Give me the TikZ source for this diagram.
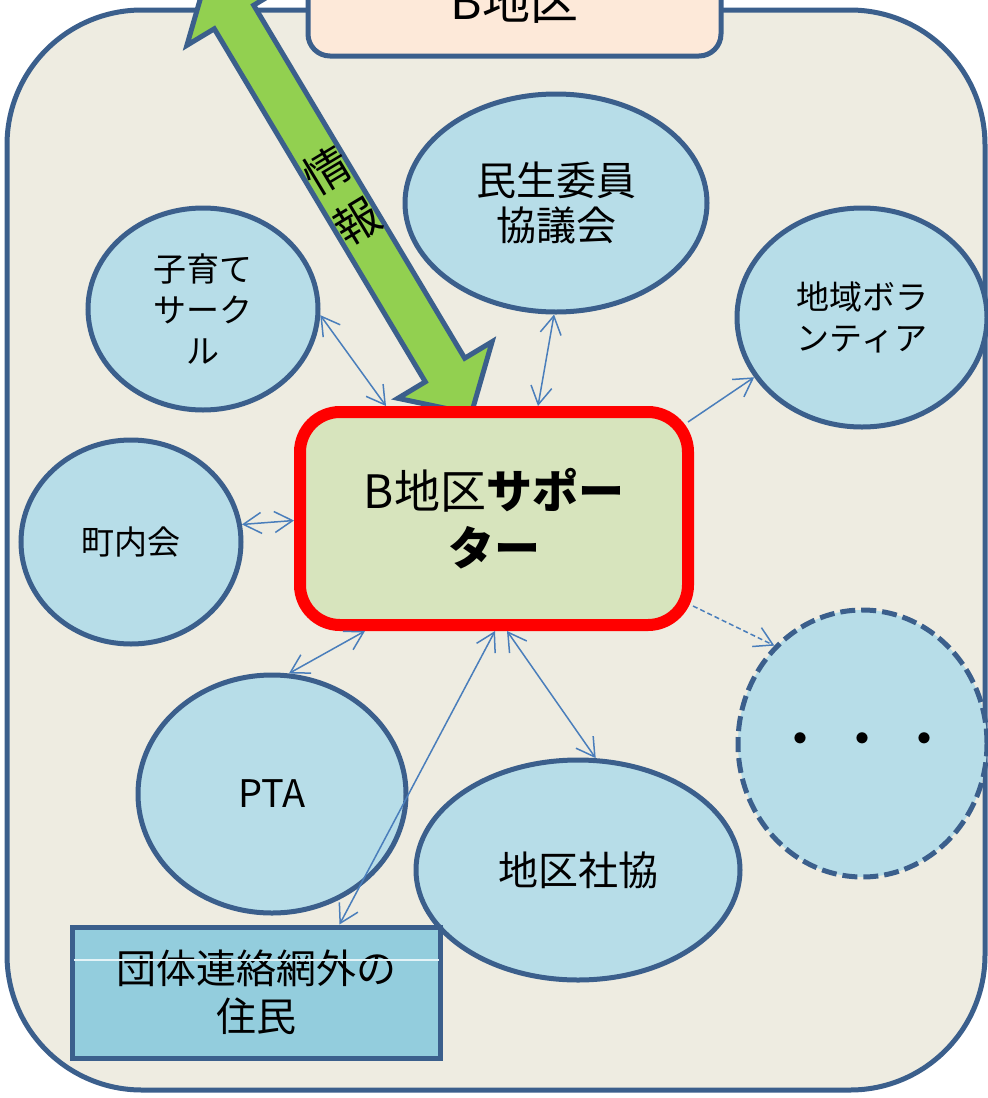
\documentclass[tikz,border=0pt]{standalone}
\usepackage{fontspec}
\setmainfont{Noto Sans CJK JP}
\usepackage{xcolor}
\usepackage{tikz}
\usetikzlibrary{arrows.meta,shapes.geometric,calc}
\definecolor{frameC}{HTML}{3B5F8C}
\definecolor{bgC}{HTML}{EEECE1}
\definecolor{groupC}{HTML}{B7DDE8}
\definecolor{supC}{HTML}{D7E4BD}
\definecolor{titleC}{HTML}{FDE9D9}
\definecolor{juminC}{HTML}{93CDDD}
\definecolor{infoC}{HTML}{92D050}
\definecolor{connC}{HTML}{4A7EBB}
\newcommand\fsz[2]{\fontsize{#1}{#2}\selectfont}
\tikzset{
  barb/.tip={Straight Barb[length=18pt,width=21pt]},
  group/.style={ellipse,draw=frameC,line width=5pt,fill=groupC,inner sep=0pt,align=center},
  conn/.style={draw=connC,line width=1.5pt,barb-barb},
  oneway/.style={draw=connC,line width=1.5pt,-barb}
}

\begin{document}
\begin{tikzpicture}[x=1pt,y=-1pt]
        \useasboundingbox (0,0) rectangle (988,1098);
        \clip (0,0) rectangle (988,1098);
        \fill[white] (0,0) rectangle (988,1098);
        % B district frame
        \draw[frameC,line width=5pt,fill=bgC,rounded corners=135pt] (7,10) rectangle (985,1090);
        \node[draw=frameC,line width=5pt,fill=titleC,rounded corners=22pt,minimum width=413pt,minimum height=110pt,font=\fsz{48}{48}] (title) at (514.5,1) {B地区};
        % groups
        \node[group,minimum width=302pt,minimum height=218pt,font=\fsz{40}{45}] (minsei) at (556,203) {民生委員\\協議会};
        \node[group,minimum width=230pt,minimum height=202pt,font=\fsz{33}{41}] (kosodate) at (203,309) {子育て\\サーク\\ル};
        \node[group,minimum width=250pt,minimum height=219pt,font=\fsz{33}{41}] (chiiki) at (862,317.5) {地域ボラ\\ンティア};
        \node[group,minimum width=220pt,minimum height=204pt,font=\fsz{33}{41}] (chounai) at (131,542) {町内会};
        \node[group,minimum width=268pt,minimum height=238pt,font=\fsz{38}{45}] (pta) at (272,794) {PTA};
        \node[group,minimum width=324pt,minimum height=220pt,font=\fsz{40}{45}] (chiku) at (578,870) {地区社協};
        \node[group,dash pattern=on 15pt off 6pt,minimum width=249pt,minimum height=267pt,font=\fsz{40}{40}\bfseries] (etc) at (862.5,743.5) {・\hspace{22pt}・\hspace{22pt}・};
        \node[draw=frameC,line width=5pt,fill=juminC,minimum width=368pt,minimum height=131pt,align=center,font=\fsz{40}{48}] (jumin) at (256,992.5) {団体連絡網外の\\住民};
        \draw[white!75!juminC,line width=1.2pt] ($(jumin.north west)+(4,35.5)$) -- ($(jumin.north east)+(-4,35.5)$);
        % information arrow
        \draw[frameC,line width=5pt,fill=infoC] (471.3,413.7) -- (492.1,341.7) -- (464.7,358.2) -- (253.7,5.2) -- (281.1,-11.3) -- (207.7,-26.7) -- (186.9,45.3) -- (214.3,28.8) -- (425.3,381.8) -- (397.9,398.3) -- cycle;
        \node[rotate=31,align=center,font=\fsz{45}{59}] (info) at (342,196) {情\\報};
        % supporter
        \node[draw=red,line width=12pt,fill=supC,rounded corners=40pt,minimum width=388pt,minimum height=213pt,align=center,font=\fsz{46}{57}] (sup) at (494,518.5) {B地区\textbf{サポー}\\\textbf{ター}};
        \draw[conn] (kosodate.-3) -- ($(sup.north west)+(92,0)$);
        \draw[conn] (minsei.-91) -- ($(sup.north west)+(244,0)$);
        \draw[oneway] ($(sup.north east)+(-6,16)$) -- (chiiki.209);
        \draw[conn] (chounai.9) -- ($(sup.west)+(0,2)$);
        \draw[conn] ($(sup.south west)+(71,0)$) -- (pta.82);
        \draw[conn] ($(sup.south west)+(201,0)$) -- ($(jumin.north west)+(270,0)$);
        \draw[conn] ($(sup.south west)+(213,0)$) -- (chiku.81);
        \draw[oneway,dash pattern=on 5pt off 3pt] ($(sup.south east)+(-1,-25)$) -- (etc.132);
\end{tikzpicture}
\end{document}
